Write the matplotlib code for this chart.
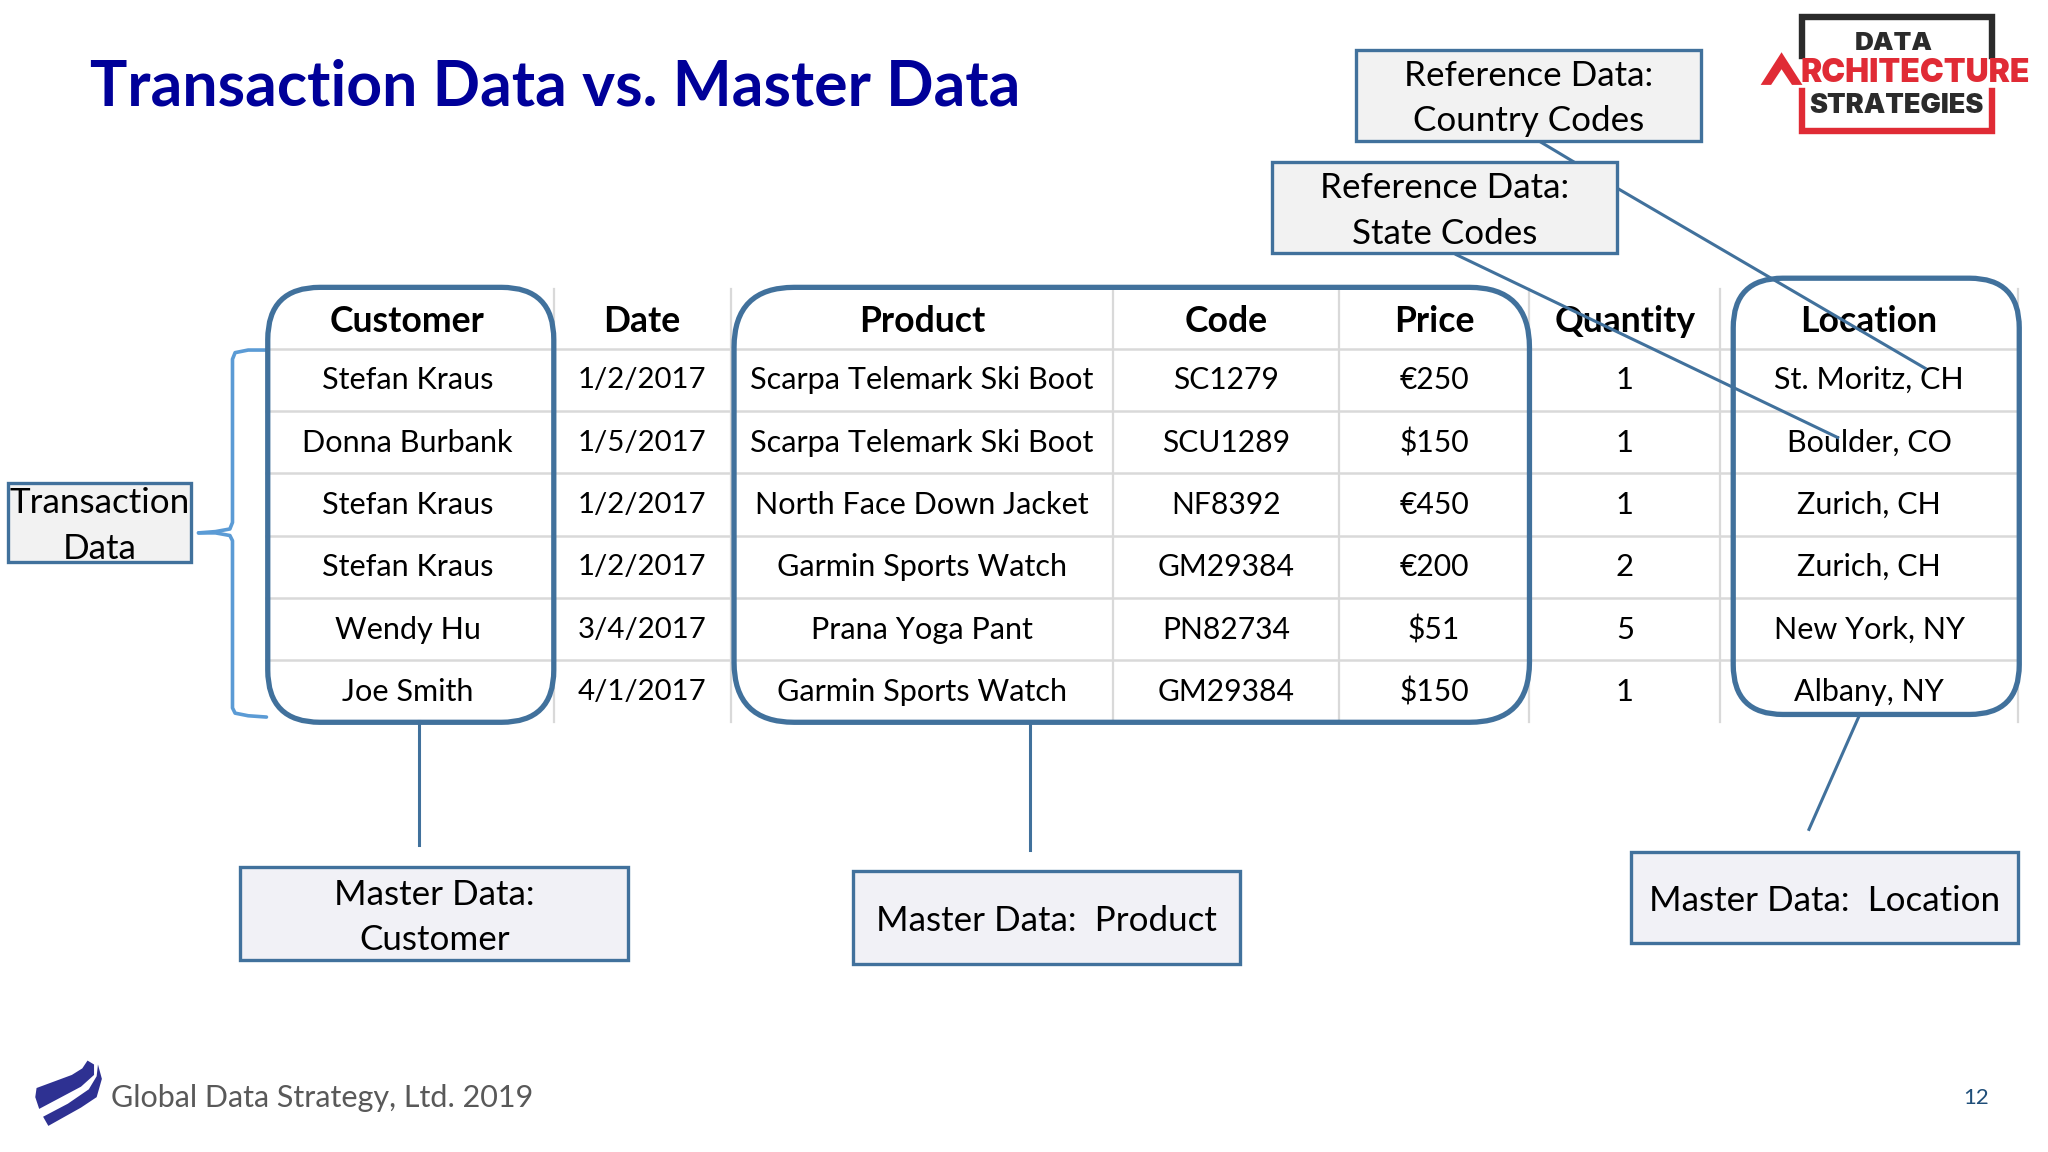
import matplotlib
matplotlib.use("Agg")
import matplotlib.pyplot as plt
from matplotlib.patches import FancyBboxPatch, Rectangle, Polygon

plt.rcParams['font.family'] = ['Lato', 'DejaVu Sans']

# ---- table content ----
headers = ["Customer", "Date", "Product", "Code", "Price", "Quantity", "Location"]
customers = ["Stefan Kraus", "Donna Burbank", "Stefan Kraus", "Stefan Kraus", "Wendy Hu", "Joe Smith"]
dates = ["1/2/2017", "1/5/2017", "1/2/2017", "1/2/2017", "3/4/2017", "4/1/2017"]
products = ["Scarpa Telemark Ski Boot", "Scarpa Telemark Ski Boot", "North Face Down Jacket",
            "Garmin Sports Watch", "Prana Yoga Pant", "Garmin Sports Watch"]
codes = ["SC1279", "SCU1289", "NF8392", "GM29384", "PN82734", "GM29384"]
prices = ["€250", "$150", "€450", "€200", "$51", "$150"]
quantities = ["1", "1", "1", "2", "5", "1"]
locations = ["St. Moritz, CH", "Boulder, CO", "Zurich, CH", "Zurich, CH", "New York, NY", "Albany, NY"]
columns = [customers, dates, products, codes, prices, quantities, locations]

# ---- layout, in a 1568 x 882 canvas ----
col_x = [312, 491.5, 706, 938.5, 1098, 1244, 1431]
col_fs = [22.1, 21.2, 22.1, 21.6, 21.6, 22.3, 22.0]
row_y = [291, 339, 386.5, 434, 482, 530]
header_y = 246
vlines = [424, 560, 852, 1025, 1171, 1317, 1545]
hlines = [267, 315, 362, 410, 458, 505]

BLUE = "#41719C"
LIGHT = "#5B9BD5"
GRID = "#D9D9D9"

fig = plt.figure(figsize=(20.48, 11.52), dpi=100, facecolor="white")
ax = fig.add_axes([0, 0, 1, 1])
ax.set_xlim(0, 1568)
ax.set_ylim(882, 0)
ax.axis("off")

# grid
for x in vlines:
    ax.plot([x, x], [221, 553], color=GRID, lw=1.6, zorder=1)
for y in hlines:
    ax.plot([204, 1546], [y, y], color=GRID, lw=1.8, zorder=1)

# table text
for x, h, col, fs in zip(col_x, headers, columns, col_fs):
    ax.text(x, header_y, h, ha="center", va="center", fontsize=25.6, fontweight="bold", color="black", zorder=3)
    for y, v in zip(row_y, col):
        ax.text(x, y, v, ha="center", va="center", fontsize=fs, color="black", zorder=3)

# rounded highlights
for x0, y0, x1, y1, r in [(205, 220, 424, 553, 40), (562, 220, 1171, 553, 46), (1327, 213, 1546, 547, 38)]:
    ax.add_patch(FancyBboxPatch((x0 + r, y0 + r), x1 - x0 - 2 * r, y1 - y0 - 2 * r,
                                boxstyle=f"round,pad={r},rounding_size={r}",
                                fc="none", ec=BLUE, lw=3.8, zorder=4))

# connectors
for xs, ys in [([1180, 1205], [109, 124]), ([1238, 1474], [144, 282]),
               ([1115, 1407], [195, 335]), ([320.5, 320.5], [552, 647]),
               ([788.5, 788.5], [553, 651]), ([1423, 1385], [549, 635])]:
    ax.plot(xs, ys, color=BLUE, lw=2.2, zorder=5)

# callouts
boxes = [(1038, 38, 1302, 108, "#F2F2F2", ["Reference Data:", "Country Codes"], [58, 93]),
         (974, 124, 1238, 194, "#F2F2F2", ["Reference Data:", "State Codes"], [144, 179]),
         (6, 370, 146, 430, "#F2F2F2", ["Transaction", "Data"], [385, 420]),
         (184, 664, 481, 735, "#F1F1F6", ["Master Data:", "Customer"], [685, 720]),
         (653, 667, 949, 738, "#F1F1F6", ["Master Data:  Product"], [705]),
         (1249, 652, 1545, 722, "#F1F1F6", ["Master Data:  Location"], [690])]
for x0, y0, x1, y1, fc, lines, ys in boxes:
    ax.add_patch(Rectangle((x0, y0), x1 - x0, y1 - y0, fc=fc, ec=BLUE, lw=2.4, zorder=6))
    for t, y in zip(lines, ys):
        ax.text((x0 + x1) / 2, y, t, ha="center", va="center", fontsize=25.2, color="black", zorder=7)

# bracket
ax.plot([204, 190, 180, 178, 178, 176, 165, 152], [268, 268, 270, 275, 400, 405, 407, 408],
        color=LIGHT, lw=2.6, zorder=2, solid_capstyle="round")
ax.plot([152, 165, 176, 178, 178, 180, 190, 204], [408, 408, 410, 414, 542, 546, 548, 549],
        color=LIGHT, lw=2.6, zorder=2, solid_capstyle="round")

# title and footer
ax.text(69, 67, "Transaction Data vs. Master Data", ha="left", va="center",
        fontsize=45, fontweight="bold", color="#000099")
ax.text(85, 841, "Global Data Strategy, Ltd. 2019", ha="left", va="center", fontsize=22, color="#595959")
ax.text(1513, 841, "12", ha="center", va="center", fontsize=16, color="#1F4E79")

# footer logo
ax.add_patch(Polygon([(67, 812), (72, 815), (72, 823), (62, 832), (30, 849), (27, 840), (28, 833), (55, 823), (63, 818)],
                     fc="#2E3192", ec="none"))
ax.add_patch(Polygon([(75, 815), (78, 826), (74, 840), (62, 848), (37, 862), (33, 855), (52, 845), (68, 834), (74, 824)],
                     fc="#2E3192", ec="none"))

# top-right logo
DARK = "#2B2B2B"
RED = "#E02B35"
ax.plot([1380, 1380, 1525, 1525], [43, 13, 13, 43], color=DARK, lw=4.6, solid_joinstyle="miter")
ax.plot([1380, 1380, 1525, 1525], [70, 100, 100, 70], color=RED, lw=4.6, solid_joinstyle="miter")
ax.text(1450, 33.5, "DATA", ha="center", va="center", fontsize=18.7, fontweight="black", color=DARK, family="Inter")
ax.text(1466, 56, "RCHITECTURE", ha="center", va="center", fontsize=23, fontweight="black", color=RED, family="Inter")
ax.text(1452, 81.5, "STRATEGIES", ha="center", va="center", fontsize=19.5, fontweight="black", color=DARK, family="Inter")
ax.add_patch(Polygon([(1364, 40), (1380, 65), (1372, 65), (1364, 53), (1356, 65), (1348, 65)], fc=RED, ec="none"))

fig.savefig("out.png", dpi=100, facecolor="white")
